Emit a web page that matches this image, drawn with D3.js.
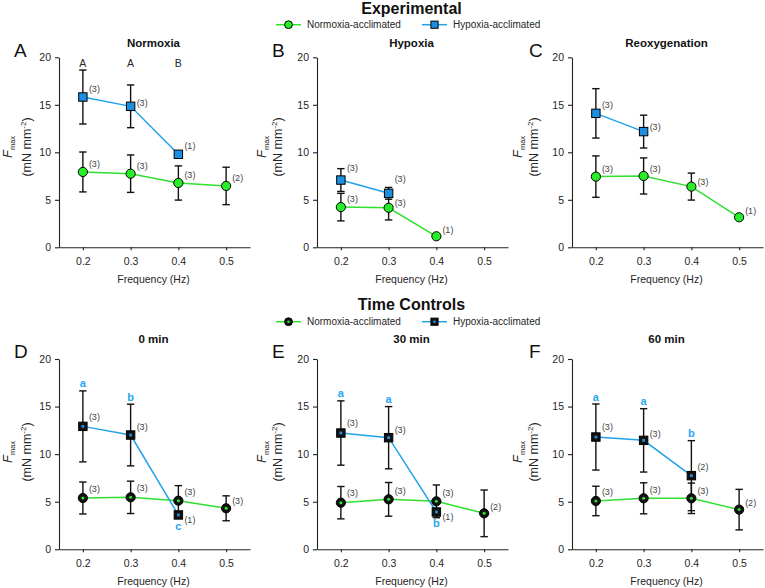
<!DOCTYPE html>
<html><head><meta charset="utf-8">
<script src="https://cdn.jsdelivr.net/npm/d3@7"></script>
<style>
body{margin:0;background:#fff}
svg{display:block}
text{font-family:"Liberation Sans",Arial,Helvetica,sans-serif}
</style>
</head><body><svg id="chart" width="765" height="588"></svg>
<script>
// ---------------- DATA ----------------
const freqs = [0.2, 0.3, 0.4, 0.5];
const yTicks = [0, 5, 10, 15, 20];
const xTicks = [0.2, 0.3, 0.4, 0.5];
const seriesNames = ["Normoxia-acclimated", "Hypoxia-acclimated"];
const groupTitles = ["Experimental", "Time Controls"];
const panelLetters = ["A", "B", "C", "D", "E", "F"];
const panelTitles = ["Normoxia", "Hypoxia", "Reoxygenation", "0 min", "30 min", "60 min"];

// Normoxia-acclimated: means, errors, n
const normMean = [
  [7.93, 7.75, 6.77, 6.46],
  [4.23, 4.16, 1.16],
  [7.44, 7.51, 6.39, 3.16],
  [5.39, 5.46, 5.11, 4.31],
  [4.90, 5.25, 5.04, 3.78],
  [5.08, 5.36, 5.36, 4.17]
];
const normErr = [
  [2.10, 1.97, 1.80, 1.97],
  [1.45, 1.28, 0],
  [2.18, 1.90, 1.42, 0],
  [1.68, 1.70, 1.58, 1.31],
  [1.70, 1.77, 1.72, 2.45],
  [1.55, 1.63, 1.60, 2.13]
];
const normN = [
  [3, 3, 3, 2],
  [3, 3, 1],
  [3, 3, 3, 1],
  [3, 3, 3, 3],
  [3, 3, 3, 2],
  [3, 3, 3, 2]
];
// Hypoxia-acclimated
const hypMean = [
  [15.82, 14.84, 9.79],
  [7.08, 5.68],
  [14.10, 12.18],
  [12.92, 12.01, 3.61],
  [12.22, 11.73, 3.92],
  [11.80, 11.45, 7.74]
];
const hypErr = [
  [2.84, 2.25, 0],
  [1.20, 0.62],
  [2.60, 1.73],
  [3.73, 3.24, 0],
  [3.38, 3.27, 0],
  [3.47, 3.33, 3.68]
];
const hypN = [
  [3, 3, 1],
  [3, 3],
  [3, 3],
  [3, 3, 1],
  [3, 3, 1],
  [3, 3, 2]
];
// significance letters
const sigTopA = ["A", "A", "B"];
const sigLetters = [null, null, null, ["a", "b", "c"], ["a", "a", "b"], ["a", "a", "b"]];
const sigWhere = [null, null, null, ["above", "above", "below"], ["above", "above", "below"], ["above", "above", "above"]];

// ---------------- LAYOUT / STYLE ----------------
const GREEN = "#2fe02f", GREEN_FILL = "#27ee27";
const BLUE = "#22a2ea", BLUE_FILL = "#1e8fe0";
const SIG_BLUE = "#25a6f0";
const TXT = "#262626";
const cols = [
  {x0: 59, x1: 250, lab1: 12, lab2: 30.5, letterX: 14},
  {x0: 317, x1: 508, lab1: 265.5, lab2: 282, letterX: 272},
  {x0: 572, x1: 763, lab1: 522, lab2: 538, letterX: 529}
];
const rows = [
  {y0: 57.3, y1: 247.3, letterY: 57, titleY: 46.5, labelCY: 147},
  {y0: 359, y1: 549.3, letterY: 358, titleY: 342.5, labelCY: 452}
];
// vertical shifts of (n) labels, per panel / series / point (label centre relative to marker)
const nShiftNorm = [
  [-8, -8, -8, -8], [-8, -5, -6], [-8, -7, -5, -6], [-9.5, -9, -8.5, -7], [-10, -8, -8.5, -6], [-9.5, -8, -7, -7]
];
const nShiftHyp = [
  [-8, -3.5, -8], [-12, -14], [-8.5, -5], [-9.5, -8.5, 5], [-10, -7.5, 4.5], [-10.5, -7, -8.5]
];

const svg = d3.select("#chart");

function drawMarker(g, cx, cy, kind, fill, dark, scale) {
  scale = scale || 1;
  if (kind === "circle") {
    const r = 4.6 * scale;
    g.append("circle").attr("cx", cx).attr("cy", cy).attr("r", r)
      .attr("fill", dark ? "#111" : fill).attr("stroke", "#000").attr("stroke-width", 1);
    if (dark) g.append("circle").attr("cx", cx).attr("cy", cy).attr("r", 1.5 * scale).attr("fill", fill);
  } else {
    const s = 8.4 * scale;
    g.append("rect").attr("x", cx - s / 2).attr("y", cy - s / 2).attr("width", s).attr("height", s)
      .attr("fill", dark ? "#111" : fill).attr("stroke", "#000").attr("stroke-width", 1);
    if (dark) g.append("rect").attr("x", cx - 1.4 * scale).attr("y", cy - 1.4 * scale)
      .attr("width", 2.8 * scale).attr("height", 2.8 * scale).attr("fill", fill);
  }
}

// Group titles and legends
[0, 1].forEach(r => {
  const ty = r === 0 ? 13.5 : 310;
  const ly = r === 0 ? 24.7 : 321.7;
  svg.append("text").attr("x", 411.5).attr("y", ty).attr("text-anchor", "middle")
    .attr("font-size", 16).attr("font-weight", "bold").attr("fill", "#111").text(groupTitles[r]);
  const lg = svg.append("g");
  const items = [
    {x0: 276, name: seriesNames[0], kind: "circle", line: GREEN, fill: GREEN_FILL},
    {x0: 422, name: seriesNames[1], kind: "square", line: BLUE, fill: BLUE_FILL}
  ];
  items.forEach(it => {
    lg.append("line").attr("x1", it.x0).attr("x2", it.x0 + 25).attr("y1", ly).attr("y2", ly)
      .attr("stroke", it.line).attr("stroke-width", 1.5);
    drawMarker(lg, it.x0 + 12.5, ly, it.kind, it.fill, r === 1, 0.85);
    lg.append("text").attr("x", it.x0 + 31).attr("y", ly + 3.6).attr("font-size", 10)
      .attr("fill", TXT).text(it.name);
  });
});

for (let p = 0; p < 6; p++) {
  const r = Math.floor(p / 3), c = p % 3;
  const col = cols[c], row = rows[r];
  const dark = r === 1;
  const x = d3.scaleLinear().domain([0.15, 0.55]).range([col.x0, col.x1]);
  const y = d3.scaleLinear().domain([0, 20]).range([row.y1, row.y0]);
  const g = svg.append("g");

  // axes
  const ya = g.append("g").attr("transform", `translate(${col.x0},0)`)
    .call(d3.axisLeft(y).tickValues(yTicks).tickSize(4).tickSizeOuter(0).tickPadding(4));
  const xa = g.append("g").attr("transform", `translate(0,${row.y1})`)
    .call(d3.axisBottom(x).tickValues(xTicks).tickFormat(d3.format(".1f")).tickSize(3).tickSizeOuter(0).tickPadding(7.5));
  [ya, xa].forEach(a => {
    a.selectAll("path,line").attr("stroke", "#222").attr("stroke-width", 1.1);
    a.selectAll("text").attr("font-size", 10.5).attr("fill", TXT)
      .attr("font-family", '"Liberation Sans",Arial,sans-serif');
  });

  // axis titles
  g.append("text").attr("x", (col.x0 + col.x1) / 2 - 1).attr("y", row.y1 + 35.5)
    .attr("text-anchor", "middle").attr("font-size", 10.5).attr("fill", TXT).text("Frequency (Hz)");
  const yl1 = g.append("text").attr("transform", `translate(${col.lab1},${row.labelCY}) rotate(-90)`)
    .attr("text-anchor", "middle").attr("fill", TXT);
  yl1.append("tspan").attr("font-size", 13).attr("font-style", "italic").text("F");
  yl1.append("tspan").attr("font-size", 7.5).attr("dy", 3).text("max");
  const yl2 = g.append("text").attr("transform", `translate(${col.lab2},${row.labelCY}) rotate(-90)`)
    .attr("text-anchor", "middle").attr("fill", TXT).attr("font-size", 12.5);
  yl2.append("tspan").text("(mN mm");
  yl2.append("tspan").attr("font-size", 8).attr("dy", -5).text("-2");
  yl2.append("tspan").attr("dy", 5).text(")");

  // panel letter and title
  g.append("text").attr("x", col.letterX).attr("y", row.letterY).attr("font-size", 19)
    .attr("fill", "#111").text(panelLetters[p]);
  g.append("text").attr("x", (col.x0 + col.x1) / 2 - 1).attr("y", row.titleY).attr("text-anchor", "middle")
    .attr("font-size", 11.5).attr("font-weight", "bold").attr("fill", "#111").text(panelTitles[p]);

  const series = [
    {mean: normMean[p], err: normErr[p], n: normN[p], shift: nShiftNorm[p], line: GREEN, fill: GREEN_FILL, kind: "circle"},
    {mean: hypMean[p], err: hypErr[p], n: hypN[p], shift: nShiftHyp[p], line: BLUE, fill: BLUE_FILL, kind: "square"}
  ].map(s => ({...s, pts: s.mean.map((m, i) => ({f: freqs[i], m, e: s.err[i], n: s.n[i], sh: s.shift[i]}))}));

  const lineGen = d3.line().x(d => x(d.f)).y(d => y(d.m));
  series.forEach(s => {
    g.append("path").datum(s.pts).attr("d", lineGen).attr("fill", "none")
      .attr("stroke", s.line).attr("stroke-width", 1.5);
  });
  // error bars
  series.forEach(s => {
    s.pts.filter(d => d.e > 0).forEach(d => {
      const cx = x(d.f), yt = y(d.m + d.e), yb = y(d.m - d.e);
      g.append("line").attr("x1", cx).attr("x2", cx).attr("y1", yt).attr("y2", yb)
        .attr("stroke", "#111").attr("stroke-width", 1.4);
      [yt, yb].forEach(yy => g.append("line").attr("x1", cx - 3.7).attr("x2", cx + 3.7)
        .attr("y1", yy).attr("y2", yy).attr("stroke", "#111").attr("stroke-width", 1.4));
    });
  });
  // markers + n labels
  series.forEach(s => {
    s.pts.forEach(d => {
      drawMarker(g, x(d.f), y(d.m), s.kind, s.fill, dark, 1);
      g.append("text").attr("x", x(d.f) + 6).attr("y", y(d.m) + d.sh).attr("dy", "0.35em")
        .attr("font-size", 9).attr("fill", "#444").text(`(${d.n})`);
    });
  });

  // significance letters
  if (p === 0) {
    sigTopA.forEach((t, i) => g.append("text").attr("x", x(freqs[i])).attr("y", row.y0 + 9.7)
      .attr("text-anchor", "middle").attr("font-size", 10.5).attr("fill", TXT).text(t));
  }
  if (sigLetters[p]) {
    sigLetters[p].forEach((t, i) => {
      const m = hypMean[p][i], e = hypErr[p][i];
      const yy = sigWhere[p][i] === "above" ? y(m + e) - 3.5 : y(m) + 15;
      g.append("text").attr("x", x(freqs[i])).attr("y", yy).attr("text-anchor", "middle")
        .attr("font-size", 11).attr("font-weight", "bold").attr("fill", SIG_BLUE).text(t);
    });
  }
}
</script></body></html>
